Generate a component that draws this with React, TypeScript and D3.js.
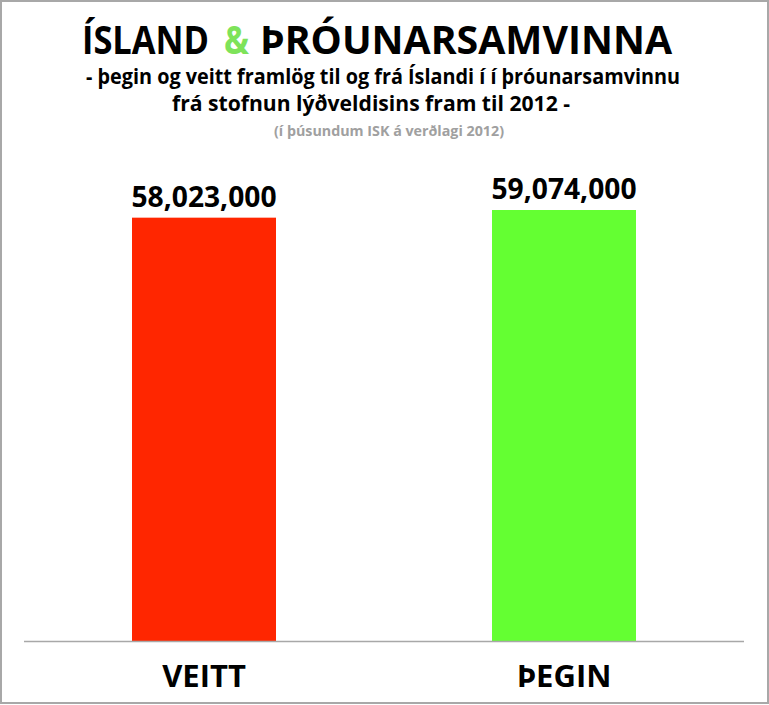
import React from "react";
import * as d3 from "d3";

// gögn
const categories = ["VEITT", "ÞEGIN"];
const values = [58023000, 59074000];

const titleParts = ["ÍSLAND", "&", "ÞRÓUNARSAMVINNA"];
const subtitleLines = [
  "- þegin og veitt framlög til og frá Íslandi í í þróunarsamvinnu",
  "frá stofnun lýðveldisins fram til 2012 -",
];
const unitNote = "(í þúsundum ISK á verðlagi 2012)";

const barColors = ["#ff2600", "#64ff32"];

const W = 769;
const H = 705;
const FONT = "'Open Sans', 'DejaVu Sans', sans-serif";

// titill: x, breidd og litur hvers hluta
const titleLayout = [
  { x: 82, w: 127, fill: "#000" },
  { x: 224, w: 25, fill: "#7ee35a" },
  { x: 260, w: 412, fill: "#000" },
];

const App: React.FC = () => {
  const baseline = 641;

  const x = d3
    .scaleBand<string>()
    .domain(categories)
    .range([24, 744])
    .paddingInner(0.6)
    .paddingOuter(0.3);

  const y = d3
    .scaleLinear()
    .domain([0, d3.max(values) as number])
    .range([baseline, 210]);

  const color = d3.scaleOrdinal<string, string>(categories, barColors);
  const fmt = d3.format(",");

  return (
    <svg
      width={W}
      height={H}
      style={{ position: "absolute", left: 0, top: 0, background: "#fff" }}
      fontFamily={FONT}
    >
      {/* rammi */}
      <rect x={1} y={1} width={W - 2} height={H - 3} fill="#fff" stroke="#a8a8a8" strokeWidth={2} />

      {/* titill */}
      {titleParts.map((t, i) => (
        <text
          key={t}
          x={titleLayout[i].x}
          y={54}
          fontSize={39}
          fontWeight="bold"
          fill={titleLayout[i].fill}
          textLength={titleLayout[i].w}
          lengthAdjust="spacingAndGlyphs"
        >
          {t}
        </text>
      ))}

      <text
        x={383}
        y={84}
        textAnchor="middle"
        fontSize={21}
        fontWeight="bold"
        fill="#000"
        textLength={594}
        lengthAdjust="spacingAndGlyphs"
      >
        {subtitleLines[0]}
      </text>
      <text
        x={371}
        y={111}
        textAnchor="middle"
        fontSize={21}
        fontWeight="bold"
        fill="#000"
        textLength={398}
        lengthAdjust="spacingAndGlyphs"
      >
        {subtitleLines[1]}
      </text>

      <text
        x={389}
        y={136}
        textAnchor="middle"
        fontSize={15}
        fontWeight="bold"
        fill="#a0a0a0"
        textLength={230}
        lengthAdjust="spacingAndGlyphs"
      >
        {unitNote}
      </text>

      {/* súlur */}
      {categories.map((c, i) => (
        <g key={c}>
          <rect
            x={x(c)}
            y={y(values[i])}
            width={x.bandwidth()}
            height={baseline - y(values[i])}
            fill={color(c)}
          />
          <text
            x={(x(c) as number) + x.bandwidth() / 2}
            y={y(values[i]) - 11}
            textAnchor="middle"
            fontSize={28}
            fontWeight="bold"
            fill="#000"
            textLength={145}
            lengthAdjust="spacingAndGlyphs"
          >
            {fmt(values[i])}
          </text>
          <text
            x={(x(c) as number) + x.bandwidth() / 2}
            y={687}
            textAnchor="middle"
            fontSize={31}
            fontWeight="bold"
            fill="#000"
          >
            {c}
          </text>
        </g>
      ))}

      {/* ás */}
      <line x1={24} x2={744} y1={baseline + 0.5} y2={baseline + 0.5} stroke="#a8a8a8" strokeWidth={1.5} />
    </svg>
  );
};

export default App;
